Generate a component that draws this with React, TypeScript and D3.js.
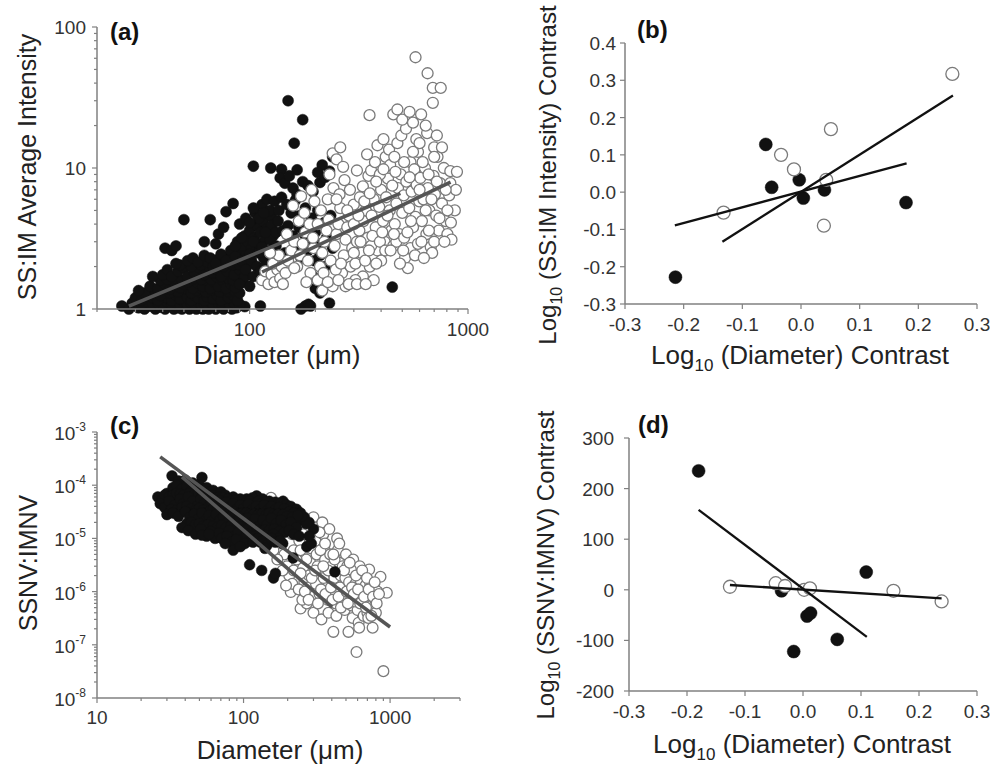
import React from 'react';
import * as d3 from 'd3';

// ---- panel (a): SS:IM average intensity vs diameter ----
const aBlack: [number, number][] = [
  [26,1.05],[28,1.0],[29,1.1],[31,1.02],[33,1.0],[35,1.05],[37,1.0],[39,1.03],[41,1.0],[43,1.06],[45,1.0],[47,1.02],[49,1.0],[51,1.05],[53,1.0],[55,1.03],[57,1.0],[59,1.06],[61,1.0],[63,1.02],[65,1.0],[67,1.05],[70,1.0],[73,1.03],[76,1.0],[79,1.04],[83,1.0],[87,1.02],[95,1.04],[112,1.05],[172,1.0],[180,1.05],[186,1.08],[232,1.1],
  [32,1.08],[34,1.12],[36,1.08],[38,1.1],[40,1.08],[42,1.12],[44,1.08],[46,1.1],[48,1.07],[50,1.12],[52,1.08],[54,1.1],[56,1.08],[58,1.12],[60,1.08],[62,1.1],[64,1.07],[66,1.12],[68,1.08],[72,1.1],[75,1.08],[78,1.12],[81,1.08],[85,1.1],[90,1.08],
  [30,1.2],[32,1.15],[34,1.25],[36,1.2],[38,1.15],[40,1.28],[42,1.2],[44,1.15],[46,1.25],[48,1.18],[50,1.3],[52,1.2],[54,1.15],[56,1.25],[58,1.2],[60,1.3],[62,1.15],[64,1.22],[66,1.3],[68,1.18],[71,1.25],[74,1.15],[77,1.3],[80,1.2],[84,1.25],[88,1.15],
  [33,1.3],[37,1.32],[39,1.25],[43,1.3],[47,1.33],[51,1.4],[54,1.3],[57,1.35],[60,1.4],[63,1.32],[67,1.36],[70,1.4],[73,1.33],[76,1.42],[80,1.33],[85,1.35],[90,1.3],
  [31,1.35],[35,1.45],[38,1.4],[41,1.5],[43,1.38],[45,1.55],[48,1.42],[50,1.5],[53,1.6],[55,1.4],[58,1.52],[61,1.45],[63,1.6],[66,1.4],[69,1.55],[72,1.45],[75,1.6],[78,1.4],[82,1.5],[86,1.42],
  [39,1.6],[42,1.62],[46,1.65],[49,1.6],[52,1.55],[56,1.65],[60,1.62],[64,1.7],[67,1.62],[71,1.68],[75,1.8],[80,1.65],[84,1.6],[88,1.7],[93,1.55],
  [36,1.7],[40,1.75],[42,1.9],[44,1.7],[47,1.85],[50,1.95],[52,1.7],[56,1.8],[59,1.95],[62,1.75],[65,2.0],[68,1.8],[71,1.9],[74,1.7],[79,1.85],[85,1.75],[90,1.9],[95,1.7],
  [48,2.05],[54,2.0],[60,2.05],[64,2.15],[68,2.0],[72,2.25],[76,2.0],[80,2.35],[84,2.05],[88,2.5],[90,2.05],[94,2.3],[98,2.05],
  [41,2.7],[44,2.6],[46,2.8],[46,2.1],[52,2.2],[55,2.3],[58,2.15],[62,2.4],[66,2.3],[70,2.1],[74,2.45],[78,2.2],[82,2.6],[86,2.35],[92,2.2],[97,2.5],
  [50,4.3],[66,4.3],[72,3.4],[78,4.9],[84,5.6],[104,10.3],[62,3.0],[76,3.8],[70,2.9],
  [88,3.0],[92,2.8],[95,3.3],[98,3.0],[100,3.6],[102,2.7],[105,3.2],[108,3.9],[110,2.9],[112,3.5],[115,4.2],[118,3.1],[120,3.7],[123,2.6],[126,4.5],[128,3.3],[90,4.0],[96,4.4],[106,4.8],[114,5.5],[120,6.0],[124,5.0],[130,5.8],[102,2.2],[108,2.0],[116,2.3],[122,2.1],[128,2.4],[96,1.9],[104,1.7],[112,1.85],[120,1.6],[100,1.45],[90,1.5],
  [86,2.8],[92,3.2],[100,2.45],[104,3.0],[110,2.5],[114,2.75],[118,2.0],[124,3.1],[110,4.4],[100,4.1],[104,5.2],[116,4.8],[126,3.9],[132,3.5],[136,5.0],[118,3.5],
  [125,10],[140,9.8],[165,9.7],[150,30],[175,22],[160,15],[240,12],[215,10.5],[205,9.3],[138,8.5],[145,7.8],[152,8.8],[158,7.2],[165,6.5],[175,8.0],[185,7.5],[195,6.8],[210,7.9],[222,8.6],[232,9.5],[140,6.2],[148,5.5],[155,4.8],[162,5.9],[170,4.6],[180,5.2],[192,4.4],[205,5.0],[220,4.1],[235,4.6],[135,4.2],[142,3.6],[150,3.9],[158,3.3],[168,3.8],[178,3.4],[190,3.0],[200,3.5],[212,2.9],[225,3.2],[240,2.7],[132,2.8],[145,2.5],[160,2.7],[172,2.3],[185,2.6],[198,2.2],[210,2.4],[222,2.0],[238,2.1],[250,1.95],
  [195,1.7],[200,1.4],[210,1.3],[190,1.05],[347,4.8],[450,1.43],
];
const aOpen: [number, number][] = [
  [114,1.6],[118,1.85],[122,1.5],[126,1.75],[130,1.55],[134,1.9],[138,1.65],[128,2.1],[136,2.4],[124,2.5],[140,2.0],
  [142,1.5],[146,1.8],[150,2.2],[155,2.6],[160,3.0],[148,3.4],[165,2.0],[170,2.4],[175,2.9],[180,3.5],[185,2.2],[190,1.8],[196,2.7],[168,4.2],[178,4.8],[188,4.0],[195,3.2],[158,5.4],[172,6.3],[198,5.8],[192,7.0],[182,1.55],[160,1.95],
  [205,1.6],[210,2.0],[215,2.5],[220,3.0],[225,3.6],[230,4.3],[235,2.2],[240,1.45],[245,2.8],[250,3.4],[255,4.0],[260,5.2],[265,1.8],[270,2.4],[275,3.1],[280,3.8],[285,4.6],[290,2.0],[295,2.7],[300,5.5],[212,5.0],[228,6.0],[242,7.2],[258,6.5],[272,8.2],[288,7.0],[240,12.7],[260,14],[250,11.5],[232,9.0],[275,1.45],[268,10.2],[205,4.0],[218,1.8],[248,1.9],
  [305,2.1],[310,3.0],[318,3.6],[325,2.5],[332,4.2],[340,5.0],[348,3.2],[355,2.0],[362,4.6],[370,6.0],[378,3.8],[385,2.6],[392,5.3],[400,7.0],[408,4.2],[415,3.0],[422,6.2],[430,8.4],[438,5.0],[445,3.6],[310,9.6],[330,7.4],[350,8.8],[360,9.6],[375,11],[395,9.0],[420,12],[440,10.5],[354,23.7],[330,1.7],[370,1.6],[400,2.2],[320,6.2],[345,12.5],[385,14.5],[410,16],[435,13.5],[305,1.6],[360,2.8],
  [455,2.8],[462,4.0],[470,5.6],[478,7.2],[485,3.4],[492,9.0],[500,4.8],[508,6.4],[515,2.3],[522,8.0],[530,1.95],[538,5.2],[545,11],[552,6.8],[560,3.8],[568,9.8],[575,4.5],[582,7.6],[590,13],[598,5.8],[460,12],[475,15],[495,17],[520,19],[455,24],[475,26],[500,22],[540,25],[560,21],[580,16],[575,61],[470,3.0],[510,3.2],[545,2.7],[590,2.9],
  [605,8.5],[615,4.2],[625,6.0],[635,10],[645,3.4],[655,7.2],[665,5.0],[675,2.75],[685,2.5],[695,8.8],[705,6.5],[715,4.6],[725,12],[735,3.6],[745,7.8],[760,5.6],[775,10],[790,4.2],[805,3.4],[820,6.4],[830,9.5],[830,7.8],[835,4.1],[840,3.1],[650,17.7],[600,15],[700,14],[700,12],[653,47],[690,37],[750,37],[690,29],[640,20],[610,24],[720,17],[760,14],[890,9.4],[880,7.0],[870,5.0],
  [215,1.35],[228,1.55],[255,1.6],[285,1.5],[310,1.5],[340,1.5],[262,2.1],[300,2.5],[322,3.0],[338,2.2],[352,2.6],[365,3.3],[380,2.1],[395,3.0],[405,3.5],[418,2.6],[428,4.6],[442,2.6],[458,3.4],[488,2.1],[505,2.6],[528,3.5],[548,4.2],[572,2.4],[612,3.0],[628,2.3],[662,3.6],[700,3.0],[740,4.4],[780,3.0],[250,6.0],[280,5.0],[300,4.0],[315,4.6],[335,5.8],[355,6.6],[380,8.0],[410,9.8],[450,7.5],[465,9.4],[510,11],[540,8.6],[560,13],[620,11],[660,9],[680,6],[720,8],[790,7],[805,5.0],[600,7.0],[640,5.0],
];
const aFitBlack: [number, number][] = [[28, 1.05], [490, 6.6]];
const aFitOpen: [number, number][] = [[114, 1.83], [832, 7.95]];

// ---- panel (b): contrasts ----
const bBlack: [number, number][] = [[-0.06,0.128],[-0.05,0.013],[-0.003,0.033],[0.004,-0.016],[0.04,0.006],[0.179,-0.028],[-0.214,-0.228]];
const bOpen: [number, number][] = [[-0.132,-0.055],[-0.034,0.1],[-0.012,0.061],[0.043,0.033],[0.051,0.169],[0.039,-0.09],[0.258,0.317]];
const bFitBlack: [number, number][] = [[-0.215,-0.089],[0.18,0.077]];
const bFitOpen: [number, number][] = [[-0.134,-0.133],[0.259,0.259]];

// ---- panel (c): SSNV:IMNV vs diameter ----
const cBlack: [number, number][] = [
  [32.5,1.5e-4],[52,1.4e-4],[40,1.25e-4],[45,1.1e-4],[36,1.2e-4],
  [26,6e-5],[28,5.5e-5],[30,7e-5],[33,9e-5],[35,1e-4],[38,8.5e-5],[41,9.5e-5],[44,8e-5],[47,9e-5],[50,1e-4],[53,8.5e-5],[56,9e-5],[59,7.5e-5],[62,8e-5],[66,7e-5],[70,7.5e-5],[75,6.5e-5],[123,6.3e-5],[186,5e-5],[115,5.8e-5],[105,5.5e-5],[135,5.5e-5],[150,5e-5],[165,4.8e-5],[95,5.5e-5],[85,6e-5],
  [29,6.5e-5],[31,6e-5],[33,6.5e-5],[35,7e-5],[37,6.8e-5],[39,6.5e-5],[43,7e-5],[46,6.5e-5],[49,7e-5],[52,6.5e-5],[55,6.8e-5],[58,6e-5],[61,6.5e-5],[64,5.8e-5],[68,6e-5],[72,5.8e-5],[78,5.5e-5],[82,5e-5],[88,5.2e-5],[92,4.8e-5],[98,5e-5],[102,4.6e-5],[110,5e-5],[118,4.6e-5],[126,5e-5],[132,4.5e-5],[142,4.8e-5],[158,4.4e-5],[172,4.5e-5],[180,4.6e-5],[195,4.3e-5],[210,4e-5],[230,3.5e-5],[245,3e-5],[260,2.5e-5],[280,2e-5],[300,1.5e-5],
  [27,4.5e-5],[29,3.8e-5],[31,5e-5],[34,4.2e-5],[37,5.5e-5],[39,4.5e-5],[42,6e-5],[45,5e-5],[48,4e-5],[51,5.5e-5],[54,4.5e-5],[57,3.8e-5],[60,5e-5],[64,4.2e-5],[68,5.2e-5],[72,4e-5],[76,4.8e-5],[80,3.8e-5],[85,4.5e-5],[90,3.5e-5],[95,4.2e-5],[100,3.6e-5],[108,4.4e-5],[115,3.5e-5],[122,4e-5],[130,3.5e-5],[138,4.2e-5],[146,3.4e-5],[155,4e-5],[165,3.5e-5],[175,3.8e-5],[190,3.6e-5],[205,3.2e-5],[220,3e-5],[240,2.2e-5],[268,1.9e-5],[250,2.6e-5],
  [32,3.5e-5],[35,3.4e-5],[38,3.8e-5],[41,4e-5],[44,3.6e-5],[47,3.3e-5],[50,3.7e-5],[53,3.4e-5],[56,3e-5],[59,3.3e-5],[62,3.6e-5],[66,3.3e-5],[70,3e-5],[75,3.3e-5],[80,3e-5],[86,3.2e-5],[92,2.9e-5],[98,3e-5],[104,3e-5],[110,2.8e-5],[118,2.9e-5],[126,2.8e-5],[134,2.9e-5],[142,2.7e-5],[150,3e-5],[160,2.8e-5],[172,2.9e-5],[185,2.8e-5],[198,2.6e-5],[215,2.5e-5],[235,2.7e-5],
  [30,2.8e-5],[33,3e-5],[36,2.6e-5],[40,3.2e-5],[43,2.5e-5],[46,2.9e-5],[49,2.3e-5],[52,3e-5],[55,2.2e-5],[58,2.7e-5],[61,2.1e-5],[65,2.8e-5],[69,2.2e-5],[73,2.6e-5],[78,2e-5],[83,2.6e-5],[88,2e-5],[94,2.5e-5],[100,1.9e-5],[106,2.4e-5],[112,1.8e-5],[120,2.3e-5],[128,1.7e-5],[136,2.2e-5],[145,1.8e-5],[155,2.4e-5],[168,1.9e-5],[180,2.2e-5],[195,1.8e-5],[210,2e-5],[230,1.6e-5],
  [41,1.9e-5],[44,2e-5],[47,1.8e-5],[50,1.9e-5],[53,1.7e-5],[57,1.8e-5],[62,1.7e-5],[66,1.6e-5],[71,1.75e-5],[76,1.6e-5],[82,1.7e-5],[90,1.6e-5],[96,1.65e-5],[102,1.5e-5],[108,1.55e-5],[116,1.4e-5],[124,1.45e-5],[132,1.35e-5],[140,1.45e-5],[150,1.4e-5],[162,1.5e-5],[176,1.35e-5],[190,1.3e-5],[205,1.4e-5],[220,1.2e-5],[240,1.1e-5],
  [38,1.6e-5],[42,1.4e-5],[47,1.2e-5],[51,1.5e-5],[56,1.1e-5],[60,1.35e-5],[64,1e-5],[68,1.25e-5],[74,1.05e-5],[80,1.4e-5],[86,1.1e-5],[92,1.3e-5],[98,9.5e-6],[105,1.2e-5],[112,9e-6],[120,1.1e-5],[130,8.5e-6],[140,1.15e-5],[150,9e-6],[160,1.2e-5],[172,1e-5],[185,8e-6],[270,7e-6],[290,8e-6],[280,1.1e-5],
  [52,1.15e-5],[58,1.2e-5],[71,1e-5],[77,1.1e-5],[83,8.5e-6],[89,9.5e-6],[102,8e-6],[116,8.5e-6],[125,1e-5],[135,9e-6],[145,7.5e-6],[155,1e-5],[165,8.5e-6],[178,9e-6],
  [85,6e-6],[110,3.2e-6],[133,2.5e-6],[160,1.8e-6],[165,2.2e-6],[218,4.3e-6],[420,2.35e-6],[75,8e-6],[95,7e-6],[140,6.5e-6],
];
const cOpen: [number, number][] = [
  [154,5.8e-5],[165,3e-5],[175,1.5e-5],[182,8e-6],[190,5e-6],[198,3e-6],[205,2e-6],[210,9.8e-7],[215,1.4e-6],[220,2.5e-6],[170,4e-6],[160,6e-6],[185,2.5e-6],[195,1.3e-6],[200,4e-5],[210,2.5e-5],[215,1.2e-5],[220,6e-6],
  [228,3.5e-5],[235,1.8e-5],[240,9e-6],[245,4.8e-7],[250,5e-6],[255,2.8e-6],[260,1.5e-6],[265,8e-7],[270,6e-7],[275,1.2e-6],[280,2e-6],[285,3.5e-6],[290,6.5e-6],[295,1.3e-5],[300,2.5e-5],[305,1.6e-5],[310,9e-6],[315,5e-6],[320,3e-6],[325,1.7e-6],[330,9e-7],[238,1.1e-6],[252,7e-7],[268,4e-6],[282,1e-5],[300,4e-7],[312,1.4e-6],
  [340,3e-7],[345,2e-5],[350,1.2e-5],[355,7e-6],[360,4e-6],[365,2.4e-6],[370,1.3e-6],[375,7e-7],[380,4e-7],[390,5e-6],[400,3e-6],[410,1.75e-7],[415,1.8e-6],[420,1e-6],[425,6e-7],[430,3.5e-7],[435,1e-5],[440,6e-6],[450,3.5e-6],[460,2e-6],[470,1.2e-6],[480,7e-7],[490,4.5e-7],[500,5e-6],[335,6e-6],[385,1.5e-5],[455,1.2e-6],[475,3e-6],[495,1.8e-6],
  [510,3e-6],[520,1.75e-7],[525,1.5e-6],[535,9e-7],[545,5.5e-7],[555,3.2e-7],[560,4e-6],[570,2.3e-6],[580,1.4e-6],[590,7.3e-8],[595,8e-7],[600,4.5e-7],[610,2.6e-7],[620,3e-6],[630,1.6e-6],[640,1e-6],[650,6e-7],[660,3.5e-7],[670,2.2e-6],[680,1.3e-6],[690,7e-7],[700,4e-7],[615,2.1e-7],[540,2.6e-6],[575,6.5e-7],
  [720,2.6e-6],[730,1.5e-6],[740,9e-7],[750,5.5e-7],[760,2.1e-7],[775,1.2e-6],[790,7e-7],[800,4e-7],[860,1.9e-6],[950,9.5e-7],[900,3.2e-8],[820,1e-6],[710,3.2e-7],
  [230,4e-6],[245,2.2e-6],[262,1e-6],[278,7e-7],[292,1.8e-6],[308,2.5e-6],[322,6e-7],[338,1.1e-6],[352,1.8e-6],[362,9e-7],[378,2.5e-6],[395,1.2e-6],[405,7e-7],[418,4e-6],[445,8e-7],[462,5e-7],[485,2.5e-6],[505,1e-6],[515,6e-7],[530,3.5e-6],[550,1.2e-6],[565,9e-7],[585,2e-6],[605,1.1e-6],[625,6e-7],[645,2.5e-6],[665,8e-7],[685,5e-7],[695,1.8e-6],[715,1.1e-6],[745,3.5e-7],[765,8e-7],[785,1.5e-6],[810,6e-7],[840,9e-7],[350,3e-6],[330,1.3e-5],[280,1.5e-5],[255,1.2e-5],[245,6e-6],[360,8e-6],[410,5e-6],[450,8e-6],
];
const cFitLong: [number, number][] = [[27, 3.4e-4], [1000, 2.16e-7]];
const cFitShort: [number, number][] = [[38, 1.43e-4], [402, 5.1e-7]];

// ---- panel (d): contrasts ----
const dBlack: [number, number][] = [[-0.18,235],[-0.037,-2],[0.007,-52],[0.013,-46],[-0.016,-122],[0.059,-98],[0.109,35]];
const dOpen: [number, number][] = [[-0.126,6],[-0.047,13],[-0.031,7.5],[0.002,0],[0.012,3],[0.156,-2],[0.239,-23]];
const dFitBlack: [number, number][] = [[-0.18,158],[0.11,-93]];
const dFitOpen: [number, number][] = [[-0.126,9.5],[0.239,-17]];

const contrastTicks = [-0.3, -0.2, -0.1, 0.0, 0.1, 0.2, 0.3];
const bYTicks = [-0.3, -0.2, -0.1, 0.0, 0.1, 0.2, 0.3, 0.4];
const dYTicks = [-200, -100, 0, 100, 200, 300];

const FONT = '"Liberation Sans", Arial, sans-serif';
const AXIS = '#808080';
const TICKTXT = '#333';
const TITLE = '#222';

const fmt1 = (v: number) => (Math.abs(v) < 1e-9 ? '0.0' : v.toFixed(1));

const logMinor = (lo: number, hi: number) => {
  const out: { v: number; major: boolean }[] = [];
  for (let p = Math.floor(Math.log10(lo)); p <= Math.ceil(Math.log10(hi)); p++) {
    for (let m = 1; m < 10; m++) {
      const v = m * Math.pow(10, p);
      if (v >= lo * 0.999 && v <= hi * 1.001) out.push({ v, major: m === 1 });
    }
  }
  return out;
};

const Dots = ({ data, x, y, r, open }: any) => (
  <g>
    {data.map((d: [number, number], i: number) => (
      <circle key={i} cx={x(d[0])} cy={y(d[1])} r={r}
        fill={open ? '#fff' : '#111'}
        stroke={open ? '#7a7a7a' : '#111'}
        strokeWidth={open ? 1.3 : 0.5} />
    ))}
  </g>
);

const Fit = ({ data, x, y, color, w }: any) => {
  const line = d3.line<[number, number]>().x(d => x(d[0])).y(d => y(d[1]));
  return <path d={line(data) || ''} stroke={color} strokeWidth={w} fill="none" />;
};

const App = () => {
  // panel a
  const ax = d3.scaleLog().domain([20, 1000]).range([97, 468]);
  const ay = d3.scaleLog().domain([1, 100]).range([309, 27]);
  // panel b
  const bx = d3.scaleLinear().domain([-0.3, 0.3]).range([625, 977]);
  const by = d3.scaleLinear().domain([-0.3, 0.4]).range([304, 43]);
  // panel c
  const cx = d3.scaleLog().domain([10, 3000]).range([97, 460]);
  const cy = d3.scaleLog().domain([1e-8, 1e-3]).range([698, 432]);
  // panel d
  const dx = d3.scaleLinear().domain([-0.3, 0.3]).range([629, 977]);
  const dy = d3.scaleLinear().domain([-200, 300]).range([691, 438]);

  const axisLines = (x: any, y: any) => {
    const [x0, x1] = x.range();
    const [y0, y1] = y.range();
    return (
      <g stroke={AXIS} strokeWidth={1.5}>
        <line x1={x0} x2={x1} y1={y0} y2={y0} />
        <line x1={x0} x2={x0} y1={y0} y2={y1} />
      </g>
    );
  };

  const aXt = logMinor(20, 1000);
  const aYt = logMinor(1, 100);
  const cXt = logMinor(10, 3000);
  const cYt = logMinor(1e-8, 1e-3);

  const label = (t: string, x: number, y: number) => (
    <text x={x} y={y} fontSize={24} fontWeight="bold" fill="#111">{t}</text>
  );

  return (
    <svg width={990} height={764} style={{ position: 'absolute', left: 0, top: 0, background: '#fff' }} fontFamily={FONT}>
      <rect width={990} height={764} fill="#fff" />

      {/* ===== (a) ===== */}
      <Dots data={aBlack} x={ax} y={ay} r={5.5} />
      <Dots data={aOpen} x={ax} y={ay} r={5.5} open />
      <Fit data={aFitBlack} x={ax} y={ay} color="#555" w={3.5} />
      <Fit data={aFitOpen} x={ax} y={ay} color="#555" w={3.5} />
      {axisLines(ax, ay)}
      <g stroke={AXIS} strokeWidth={1.2}>
        {aXt.map((t, i) => <line key={i} x1={ax(t.v)} x2={ax(t.v)} y1={309} y2={309 + (t.major ? 5 : 3)} />)}
        {aYt.map((t, i) => <line key={i} x1={97} x2={97 - (t.major ? 5 : 3)} y1={ay(t.v)} y2={ay(t.v)} />)}
      </g>
      <g fontSize={19} fill={TICKTXT}>
        {[1, 10, 100].map(v => <text key={v} x={86} y={ay(v) + 7} textAnchor="end">{v}</text>)}
        {[100, 1000].map(v => <text key={v} x={ax(v)} y={336} textAnchor="middle">{v}</text>)}
      </g>
      <text transform="translate(36,167) rotate(-90)" textAnchor="middle" fontSize={25} fill={TITLE}>SS:IM Average Intensity</text>
      <text x={277} y={364} textAnchor="middle" fontSize={26} fill={TITLE}>Diameter (μm)</text>
      {label('(a)', 110, 40)}

      {/* ===== (b) ===== */}
      <Dots data={bBlack} x={bx} y={by} r={6.5} />
      <Dots data={bOpen} x={bx} y={by} r={6.5} open />
      <Fit data={bFitBlack} x={bx} y={by} color="#111" w={2.3} />
      <Fit data={bFitOpen} x={bx} y={by} color="#111" w={2.3} />
      {axisLines(bx, by)}
      <g stroke={AXIS} strokeWidth={1.2}>
        {contrastTicks.map((v, i) => <line key={i} x1={bx(v)} x2={bx(v)} y1={304} y2={309} />)}
        {bYTicks.map((v, i) => <line key={i} x1={625} x2={620} y1={by(v)} y2={by(v)} />)}
      </g>
      <g fontSize={19} fill={TICKTXT}>
        {bYTicks.map(v => <text key={v} x={616} y={by(v) + 7} textAnchor="end">{fmt1(v)}</text>)}
        {contrastTicks.map(v => <text key={v} x={bx(v)} y={331} textAnchor="middle">{fmt1(v)}</text>)}
      </g>
      <text transform="translate(556,175) rotate(-90)" textAnchor="middle" fontSize={24} fill={TITLE}>
        Log<tspan dy={6} fontSize={16}>10</tspan><tspan dy={-6}> (SS:IM Intensity) Contrast</tspan>
      </text>
      <text x={800} y={364} textAnchor="middle" fontSize={26} fill={TITLE}>
        Log<tspan dy={7} fontSize={17}>10</tspan><tspan dy={-7}> (Diameter) Contrast</tspan>
      </text>
      {label('(b)', 637, 38)}

      {/* ===== (c) ===== */}
      <Dots data={cOpen} x={cx} y={cy} r={5.4} open />
      <Dots data={cBlack} x={cx} y={cy} r={5.4} />
      <Fit data={cFitLong} x={cx} y={cy} color="#555" w={3.5} />
      <Fit data={cFitShort} x={cx} y={cy} color="#555" w={3.5} />
      {axisLines(cx, cy)}
      <g stroke={AXIS} strokeWidth={1.2}>
        {cXt.map((t, i) => <line key={i} x1={cx(t.v)} x2={cx(t.v)} y1={698} y2={698 + (t.major ? 5 : 3)} />)}
        {cYt.map((t, i) => <line key={i} x1={97} x2={97 - (t.major ? 5 : 3)} y1={cy(t.v)} y2={cy(t.v)} />)}
      </g>
      <g fontSize={19} fill={TICKTXT}>
        {[-8, -7, -6, -5, -4, -3].map(p => (
          <text key={p} x={86} y={cy(Math.pow(10, p)) + 8} textAnchor="end">
            10<tspan dy={-9} fontSize={12}>{p}</tspan>
          </text>
        ))}
        {[10, 100, 1000].map(v => <text key={v} x={cx(v)} y={724} textAnchor="middle">{v}</text>)}
      </g>
      <text transform="translate(37,563) rotate(-90)" textAnchor="middle" fontSize={25} fill={TITLE}>SSNV:IMNV</text>
      <text x={280} y={759} textAnchor="middle" fontSize={26} fill={TITLE}>Diameter (μm)</text>
      {label('(c)', 110, 434)}

      {/* ===== (d) ===== */}
      <Dots data={dBlack} x={dx} y={dy} r={6.5} />
      <Dots data={dOpen} x={dx} y={dy} r={6.5} open />
      <Fit data={dFitBlack} x={dx} y={dy} color="#111" w={2.3} />
      <Fit data={dFitOpen} x={dx} y={dy} color="#111" w={2.3} />
      {axisLines(dx, dy)}
      <g stroke={AXIS} strokeWidth={1.2}>
        {contrastTicks.map((v, i) => <line key={i} x1={dx(v)} x2={dx(v)} y1={691} y2={696} />)}
        {dYTicks.map((v, i) => <line key={i} x1={629} x2={624} y1={dy(v)} y2={dy(v)} />)}
      </g>
      <g fontSize={19} fill={TICKTXT}>
        {dYTicks.map(v => <text key={v} x={614} y={dy(v) + 7} textAnchor="end">{v}</text>)}
        {contrastTicks.map(v => <text key={v} x={dx(v)} y={718} textAnchor="middle">{fmt1(v)}</text>)}
      </g>
      <text transform="translate(554,565) rotate(-90)" textAnchor="middle" fontSize={24} fill={TITLE}>
        Log<tspan dy={6} fontSize={16}>10</tspan><tspan dy={-6}> (SSNV:IMNV) Contrast</tspan>
      </text>
      <text x={802} y={753} textAnchor="middle" fontSize={26} fill={TITLE}>
        Log<tspan dy={7} fontSize={17}>10</tspan><tspan dy={-7}> (Diameter) Contrast</tspan>
      </text>
      {label('(d)', 638, 433)}
    </svg>
  );
};

export default App;
